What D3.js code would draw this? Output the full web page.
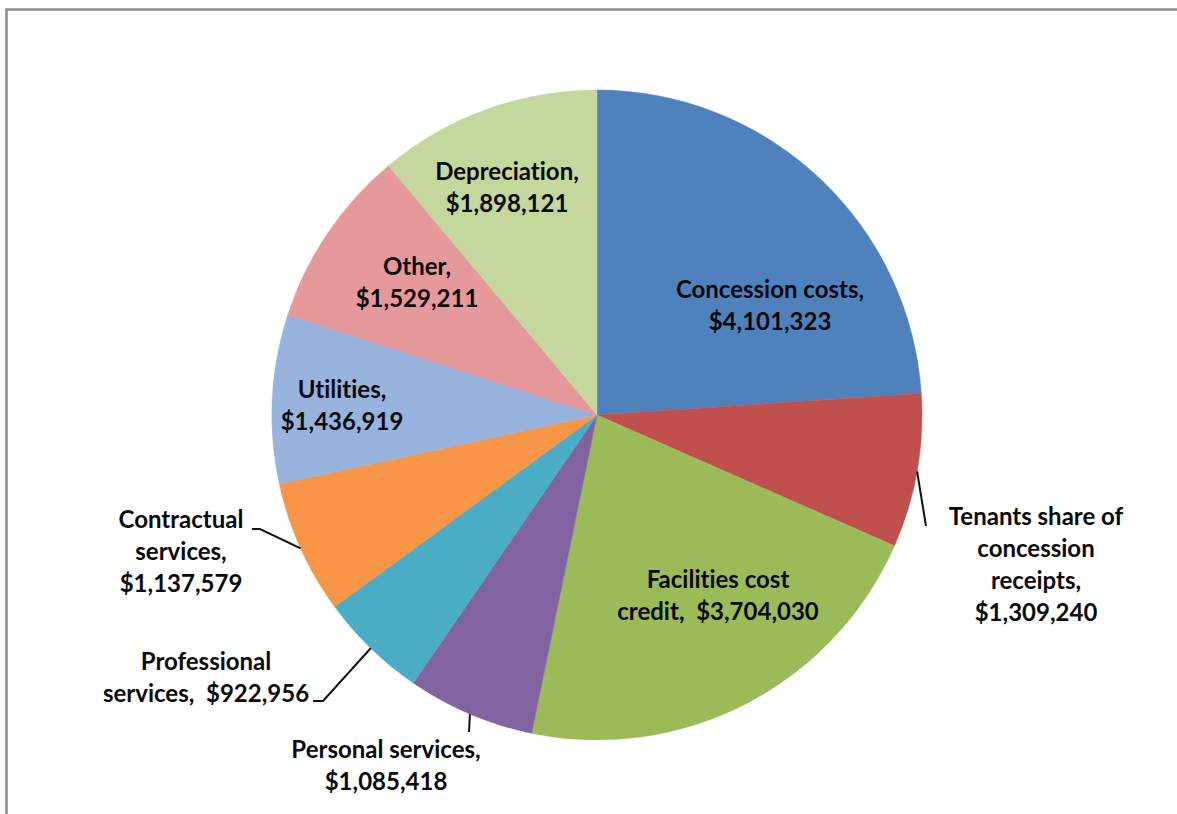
<!DOCTYPE html>
<html>
<head>
<meta charset="utf-8">
<script src="https://cdn.jsdelivr.net/npm/d3@7/dist/d3.min.js"></script>
<style>
  html, body { margin: 0; padding: 0; background: #fff; }
  svg { display: block; }
  text { font-family: Lato, "Open Sans", sans-serif; font-weight: bold; fill: #0a0a0a; font-variant-ligatures: none; font-feature-settings: "liga" 0; }
</style>
</head>
<body>
<svg id="chart" width="1177" height="814"></svg>
<script>
// ---- data ----
const categories = [
  "Concession costs", "Tenants share of concession receipts", "Facilities cost credit",
  "Personal services", "Professional services", "Contractual services",
  "Utilities", "Other", "Depreciation"
];
const values = [4101323, 1309240, 3704030, 1085418, 922956, 1137579, 1436919, 1529211, 1898121];
const colors = ["#4F81BD", "#C0504D", "#9BBB59", "#8064A2", "#4BACC6", "#F79646", "#97B3DE", "#E6999A", "#C4D79C"];
// label text lines (as wrapped in the original)
const labelLines = [
  ["Concession costs,", "$4,101,323"],
  ["Tenants share of", "concession", "receipts,", "$1,309,240"],
  ["Facilities cost", "credit,  $3,704,030"],
  ["Personal services,", "$1,085,418"],
  ["Professional", "services,  $922,956"],
  ["Contractual", "services,", "$1,137,579"],
  ["Utilities,", "$1,436,919"],
  ["Other,", "$1,529,211"],
  ["Depreciation,", "$1,898,121"]
];

// ---- layout ----
const W = 1177, H = 814;
const cx = 597, cy = 415, R = 325;
const lineH = 32;
// label anchor (x center, first baseline) relative to pie centre, plus leader elbow (relative) if any
const labelLayout = [
  { dx: 173, dy: -117 },
  { dx: 439, dy: 110, leader: [[329, 111]] },
  { dx: 121, dy: 173 },
  { dx: -211, dy: 343, leader: [[-128, 317]] },
  { dx: -391, dy: 255, leader: [[-274, 286], [-284, 286]] },
  { dx: -416, dy: 113, leader: [[-337, 114], [-345, 114]] },
  { dx: -255, dy: -17 },
  { dx: -180, dy: -140 },
  { dx: -90, dy: -235 }
];

const svg = d3.select("#chart");

// frame
svg.append("rect")
  .attr("x", 6.5).attr("y", 9.5)
  .attr("width", W + 50).attr("height", H + 50)
  .attr("fill", "none").attr("stroke", "#8a8a8a").attr("stroke-width", 2.5);

const g = svg.append("g").attr("transform", `translate(${cx},${cy})`);

const pie = d3.pie().sort(null).value(d => d.value).startAngle(0).endAngle(2 * Math.PI);
const data = categories.map((c, i) => ({ name: c, value: values[i], color: colors[i], lines: labelLines[i], layout: labelLayout[i] }));
const arcs = pie(data);
const arc = d3.arc().innerRadius(0).outerRadius(R);
const edgeArc = d3.arc().innerRadius(R).outerRadius(R);

g.selectAll("path.slice")
  .data(arcs)
  .join("path")
  .attr("class", "slice")
  .attr("d", arc)
  .attr("fill", d => d.data.color)
  .attr("stroke", d => d.data.color)
  .attr("stroke-width", 0.5);

// leader lines
const line = d3.line();
g.selectAll("path.leader")
  .data(arcs.filter(d => d.data.layout.leader))
  .join("path")
  .attr("class", "leader")
  .attr("d", d => line([edgeArc.centroid(d), ...d.data.layout.leader]))
  .attr("fill", "none")
  .attr("stroke", "#111")
  .attr("stroke-width", 2);

// labels
const labels = g.selectAll("text.label")
  .data(arcs)
  .join("text")
  .attr("class", "label")
  .attr("text-anchor", "middle")
  .attr("font-size", 24)
  .attr("transform", d => `translate(${d.data.layout.dx},${d.data.layout.dy})`);
labels.selectAll("tspan")
  .data(d => d.data.lines)
  .join("tspan")
  .attr("x", 0)
  .attr("y", (t, i) => i * lineH)
  .attr("xml:space", "preserve")
  .style("white-space", "pre")
  .text(t => t);
</script>
</body>
</html>
